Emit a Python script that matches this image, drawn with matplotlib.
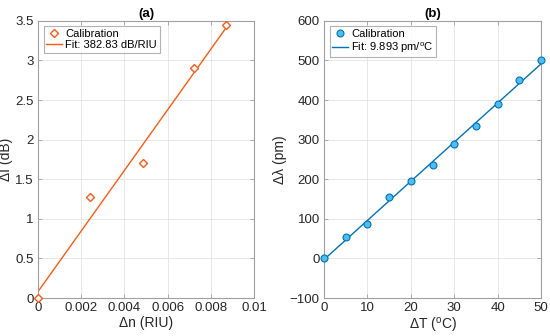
import matplotlib
matplotlib.use("Agg")
import matplotlib.pyplot as plt
import numpy as np

plt.rcParams['font.family'] = ['Liberation Sans', 'DejaVu Sans']
plt.rcParams['mathtext.fontset'] = 'custom'
plt.rcParams['mathtext.rm'] = 'Liberation Sans'

# Panel (a)
dn = [0.0, 0.00243, 0.00485, 0.0072, 0.00872]
dI = [0.0, 1.28, 1.71, 2.90, 3.45]
fit_a_slope = 382.83
fit_a_icpt = 0.08

# Panel (b)
dT = [0, 5, 10, 15, 20, 25, 30, 35, 40, 45, 50]
dL = [0, 53, 88, 156, 196, 236, 290, 335, 390, 450, 502]
fit_b_slope = 9.893
fit_b_icpt = -3.0

orange = '#FF5A14'
blue = '#0072BD'
cyan = '#4DBEEE'
gray = '#A0A0A0'

fig = plt.figure(figsize=(5.5, 3.36), dpi=100)
axa = fig.add_axes([0.069, 0.113, 0.393, 0.825])
axb = fig.add_axes([0.589, 0.113, 0.395, 0.825])

def style(ax):
    for s in ax.spines.values():
        s.set_color(gray)
        s.set_linewidth(0.8)
    ax.tick_params(direction='in', length=3, width=0.6, color=gray,
                   labelsize=9.5, labelcolor='#262626', top=True, right=True, pad=3)
    ax.grid(True, color='#E3E3E3', linewidth=0.6)
    ax.set_axisbelow(True)

# (a)
xa = np.array([0, dn[-1]])
axa.plot(xa, fit_a_slope * xa + fit_a_icpt, color=orange, lw=1.0, label='Fit: 382.83 dB/RIU', zorder=2)
axa.plot(dn, dI, linestyle='none', marker='D', markersize=4.5, mfc='white', mec=orange, mew=1.0,
         label='Calibration', zorder=3, clip_on=False)
axa.set_xlim(0, 0.01)
axa.set_ylim(0, 3.5)
axa.set_xticks([0, 0.002, 0.004, 0.006, 0.008, 0.01])
axa.set_xticklabels(['0', '0.002', '0.004', '0.006', '0.008', '0.01'])
axa.set_yticks([0, 0.5, 1, 1.5, 2, 2.5, 3, 3.5])
axa.set_yticklabels(['0', '0.5', '1', '1.5', '2', '2.5', '3', '3.5'])
axa.set_xlabel('Δn (RIU)', fontsize=10, color='#262626', labelpad=1)
axa.set_ylabel('ΔI (dB)', fontsize=10, color='#262626', labelpad=2)
axa.set_title('(a)', fontsize=9.5, fontweight='bold', pad=3)
style(axa)
h, l = axa.get_legend_handles_labels()
leg = axa.legend(h[::-1], l[::-1], loc='upper left', fontsize=8, frameon=True, fancybox=False,
                 edgecolor=gray, handlelength=1.4, handletextpad=0.3, borderpad=0.25,
                 labelspacing=0.1, borderaxespad=0.5)
leg.get_frame().set_linewidth(0.8)

# (b)
xb = np.array([0, dT[-1]])
axb.plot(xb, fit_b_slope * xb + fit_b_icpt, color=blue, lw=1.0, label='Fit: 9.893 pm/$^{\\rm o}$C', zorder=2)
axb.plot(dT, dL, linestyle='none', marker='o', markersize=5, mfc=cyan, mec=blue, mew=0.8,
         label='Calibration', zorder=3, clip_on=False)
axb.set_xlim(0, 50)
axb.set_ylim(-100, 600)
axb.set_xticks(range(0, 51, 10))
axb.set_yticks(range(-100, 601, 100))
axb.set_xlabel('ΔT ($^{\\rm o}$C)', fontsize=10, color='#262626', labelpad=1)
axb.set_ylabel('Δλ (pm)', fontsize=10, color='#262626', labelpad=2)
axb.set_title('(b)', fontsize=9.5, fontweight='bold', pad=3)
style(axb)
h, l = axb.get_legend_handles_labels()
leg = axb.legend(h[::-1], l[::-1], loc='upper left', fontsize=8, frameon=True, fancybox=False,
                 edgecolor=gray, handlelength=1.4, handletextpad=0.3, borderpad=0.25,
                 labelspacing=0.1, borderaxespad=0.5)
leg.get_frame().set_linewidth(0.8)

fig.savefig('out.png', dpi=100)
